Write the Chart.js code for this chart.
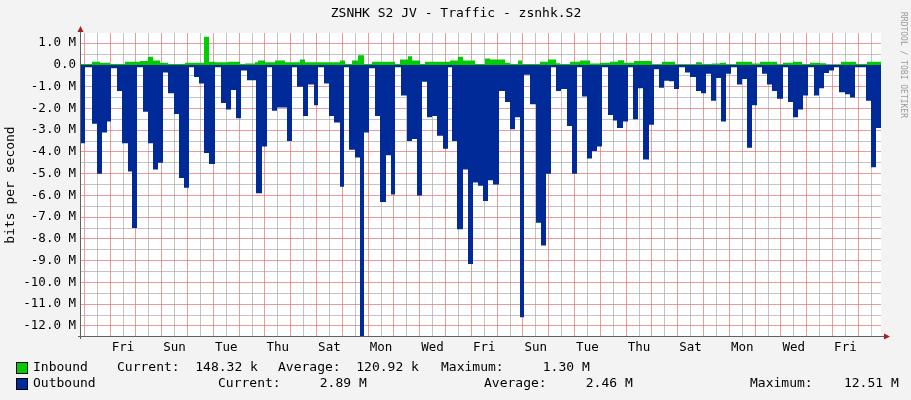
<!DOCTYPE html>
<html><head><meta charset="utf-8">
<script src="https://cdn.jsdelivr.net/npm/chart.js@4/dist/chart.umd.min.js"></script>
<style>html,body{margin:0;padding:0;background:#f3f3f3}#c{display:block}</style>
</head><body>
<div style="width:911px;height:400px"><canvas id="c"></canvas></div>
<script>
// time axis in rrd rows (one row per pixel column, 800 rows over the graph)
const dayLabels=['Fri','Sun','Tue','Thu','Sat','Mon','Wed','Fri','Sun','Tue','Thu','Sat','Mon','Wed','Fri'];
const yTicks=[-12,-11.5,-11,-10.5,-10,-9.5,-9,-8.5,-8,-7.5,-7,-6.5,-6,-5.5,-5,-4.5,-4,-3.5,-3,-2.5,-2,-1.5,-1,-0.5,0,0.5,1];

const inRow=[0,11,19,29,44,59,67,72,79,87,104,123,128,134,147,159,164,174,177,184,194,204,219,224,259,264,271,277,283,291,314,319,327,331,339,344,369,377,382,394,404,409,424,429,437,441,459,467,475,479,489,499,509,519,529,537,543,553,571,581,594,615,621,631,639,645,655,671,679,696,702,712,721,729,739,745,760,775,786,800];
const inVal=[0.05,0.15,0.1,0.05,0.15,0.18,0.38,0.2,0.1,0.05,0.1,1.3,0.15,0.12,0.15,0.05,0.07,0.12,0.2,0.12,0.2,0.12,0.25,0.12,0.2,0.05,0.2,0.45,0.05,0.15,0.05,0.25,0.4,0.2,0.05,0.15,0.2,0.38,0.2,0.05,0.3,0.25,0.1,0.05,0.2,0.05,0.15,0.25,0.08,0.05,0.15,0.2,0.07,0.1,0.15,0.22,0.1,0.18,0.03,0.15,0.03,0.12,0.05,0.07,0.1,0.03,0.15,0.07,0.15,0.03,0.1,0.15,0.05,0.1,0.08,0.02,0.15,0.05,0.15,0.15];

const outRow=[0,4,11,16,21,26,30,36,41,47,51,56,62,67,72,77,82,87,93,98,103,108,113,118,123,128,134,140,145,150,155,160,166,175,181,186,191,196,206,211,216,222,227,233,237,243,248,253,259,263,268,274,279,283,288,294,299,305,310,314,320,326,331,336,341,346,351,356,362,367,371,376,382,387,392,397,402,407,412,418,424,429,434,439,443,449,455,460,465,470,475,480,486,491,496,501,506,511,516,521,527,532,536,542,547,552,557,562,568,573,578,583,588,593,598,604,609,615,620,625,630,635,640,645,650,656,661,666,671,676,681,686,691,696,702,707,712,717,722,727,733,738,743,748,753,758,764,769,774,785,790,795,800];
const outVal=[-3.6,-0.1,-2.7,-5.0,-3.1,-2.6,-0.15,-1.2,-3.6,-4.9,-7.5,-0.1,-2.15,-3.6,-4.8,-4.5,-0.35,-1.3,-2.25,-5.2,-5.65,-0.1,-0.55,-0.85,-4.05,-4.55,-0.1,-1.75,-2.05,-1.15,-2.45,-0.25,-0.7,-5.9,-3.75,-0.1,-2.1,-1.95,-3.5,-0.1,-1.0,-2.35,-0.9,-1.85,-0.1,-0.85,-2.35,-2.65,-5.6,-0.1,-3.9,-4.25,-12.5,-3.1,-0.15,-2.35,-6.3,-4.15,-5.95,-0.1,-1.4,-3.5,-3.4,-6.0,-0.77,-2.4,-2.35,-3.25,-3.85,-0.1,-3.5,-7.55,-4.8,-9.15,-5.4,-5.55,-6.25,-5.3,-5.5,-1.2,-1.7,-2.95,-2.4,-11.6,-0.45,-1.8,-7.25,-8.3,-5.0,-0.1,-1.2,-1.1,-2.8,-5.0,-0.1,-1.45,-4.3,-3.95,-3.75,-0.1,-2.3,-2.55,-2.9,-2.6,-0.1,-2.5,-1.07,-4.35,-2.75,-0.2,-1.05,-0.72,-0.75,-1.1,-0.1,-0.35,-0.55,-1.2,-1.3,-0.4,-1.65,-0.6,-2.6,-0.4,-0.1,-0.9,-0.65,-3.8,-1.85,-0.1,-0.4,-0.9,-1.2,-1.55,-0.1,-1.7,-2.4,-2.05,-1.4,-0.1,-1.4,-1.07,-0.37,-0.25,-0.1,-1.25,-1.35,-1.5,-0.1,-1.65,-4.7,-2.9,-2.9];

const FIRST_LABEL=42, HALF=12.9; // rows
const MONO='"DejaVu Sans Mono",monospace';

const rrdDecor={
  id:'rrdDecor',
  beforeDraw(ch){
    const {ctx,chartArea:a}=ch;
    ctx.save();ctx.fillStyle='#f3f3f3';ctx.fillRect(0,0,ch.width,ch.height);
    ctx.fillStyle='#ffffff';ctx.fillRect(a.left,a.top,a.right-a.left,a.bottom-a.top);ctx.restore();
  },
  afterDraw(ch){
    const {ctx,chartArea:a}=ch;const y0=ch.scales.y.getPixelForValue(0);
    ctx.save();
    // zero line
    ctx.strokeStyle='#002a97';ctx.lineWidth=1;ctx.beginPath();ctx.moveTo(a.left,y0+0.5);ctx.lineTo(a.right,y0+0.5);ctx.stroke();
    // axes
    ctx.strokeStyle='#606060';ctx.beginPath();ctx.moveTo(a.left-0.5,a.top-5);ctx.lineTo(a.left-0.5,a.bottom+3);
    ctx.moveTo(a.left-3,a.bottom+0.5);ctx.lineTo(a.right+5,a.bottom+0.5);ctx.stroke();
    ctx.fillStyle='#a02020';ctx.beginPath();ctx.moveTo(a.left-3.5,a.top-1);ctx.lineTo(a.left+2.5,a.top-1);ctx.lineTo(a.left-0.5,a.top-7);ctx.fill();
    ctx.beginPath();ctx.moveTo(a.right+3,a.bottom-2.5);ctx.lineTo(a.right+3,a.bottom+3.5);ctx.lineTo(a.right+9,a.bottom+0.5);ctx.fill();
    // title
    ctx.fillStyle='#000';ctx.font='13px '+MONO;ctx.textAlign='center';ctx.textBaseline='middle';
    ctx.fillText('ZSNHK S2 JV - Traffic - zsnhk.S2',456,14);
    // y label
    ctx.save();ctx.translate(11,185);ctx.rotate(-Math.PI/2);ctx.fillText('bits per second',0,0);ctx.restore();
    // watermark
    ctx.save();ctx.translate(903,65);ctx.rotate(Math.PI/2);ctx.fillStyle='#9a9a9a';ctx.font='8px '+MONO;ctx.fillText('RRDTOOL / TOBI OETIKER',0,0);ctx.restore();
    // legend
    ctx.textAlign='left';ctx.font='13px '+MONO;
    const rows=[
      {c:'#00cc00',y:368,items:[[33,'Inbound'],[117,'Current:  148.32 k'],[278,'Average:  120.92 k'],[441,'Maximum:     1.30 M']]},
      {c:'#002a97',y:384,items:[[33,'Outbound'],[218,'Current:     2.89 M'],[484,'Average:     2.46 M'],[750,'Maximum:    12.51 M']]}
    ];
    for(const r of rows){
      ctx.fillStyle=r.c;ctx.fillRect(17,r.y-5,10,10);ctx.strokeStyle='#000';ctx.strokeRect(16.5,r.y-5.5,11,11);
      ctx.fillStyle='#000';for(const [x,t] of r.items)ctx.fillText(t,x,r.y);
    }
    ctx.restore();
  }
};

const pts=(xs,vs)=>xs.map((x,i)=>({x,y:vs[i]}));
new Chart(document.getElementById('c'),{
  type:'line',
  data:{datasets:[
    {label:'Inbound',data:pts(inRow,inVal),stepped:true,fill:'origin',backgroundColor:'#00cc00',borderWidth:0,pointRadius:0},
    {label:'Outbound',data:pts(outRow,outVal),stepped:true,fill:'origin',backgroundColor:'#002a97',borderWidth:0,pointRadius:0}
  ]},
  options:{
    responsive:true,maintainAspectRatio:false,animation:false,
    layout:{padding:{left:0,top:33,right:30,bottom:44}},
    plugins:{legend:{display:false},tooltip:{enabled:false}},
    scales:{
      x:{type:'linear',min:0,max:800,
        afterFit:s=>{s.height=20;},
        afterBuildTicks:s=>{const t=[];for(let k=-3;k<=64;k++){const v=FIRST_LABEL+HALF*k;if(v>0&&v<800)t.push({value:v,k});}s.ticks=t;},
        border:{display:false},
        grid:{drawTicks:false,lineWidth:1,borderDash:[1,2],color:c=>{const k=c.tick?c.tick.k:0;return Math.abs(k)%2===1?'rgba(230,120,120,0.75)':'rgba(170,170,170,0.7)';}},
        ticks:{autoSkip:false,maxRotation:0,padding:4,color:'#000',font:{family:MONO,size:12.5},
          callback:function(v,i){const k=this.ticks[i].k;return (k>=0&&k%4===0)?dayLabels[k/4]||'':'';}}
      },
      y:{min:-12.46,max:1.47,
        afterFit:s=>{s.width=81;},
        afterBuildTicks:s=>{s.ticks=yTicks.map(v=>({value:v}));},
        border:{display:false},
        grid:{drawTicks:false,borderDash:[1,2],color:c=>Number.isInteger(c.tick.value)?'rgba(230,120,120,0.75)':'rgba(170,170,170,0.7)'},
        ticks:{autoSkip:false,padding:5,color:'#000',font:{family:MONO,size:12.5},
          callback:v=>Number.isInteger(v)?(v===0?'0.0':v.toFixed(1)+' M'):''}
      }
    }
  },
  plugins:[rrdDecor]
});
</script>
</body></html>
